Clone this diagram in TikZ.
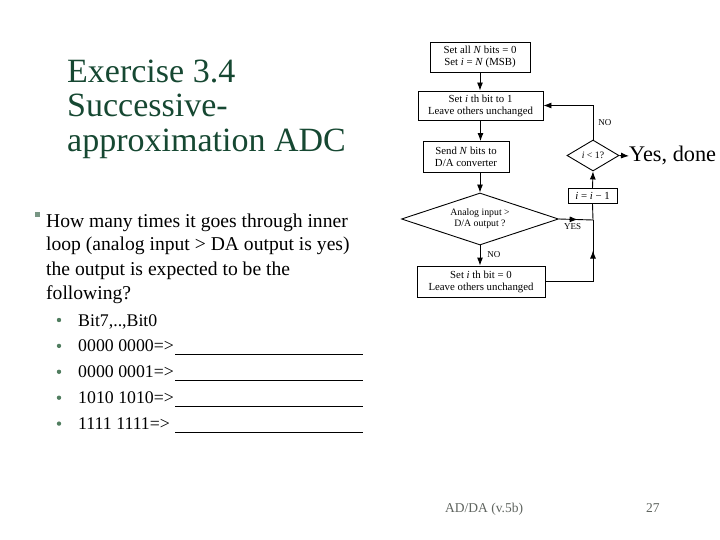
\documentclass[tikz,border=0pt]{standalone}
\usepackage{fontspec}
\setmainfont{Liberation Serif}
\usetikzlibrary{arrows.meta, shapes.geometric, positioning, decorations.markings}

\definecolor{titlegreen}{RGB}{22,72,50}
\definecolor{bulletgray}{RGB}{120,150,132}
\definecolor{dotgreen}{RGB}{80,125,95}
\definecolor{footgray}{RGB}{95,100,95}

\tikzset{
    flowbox/.style={draw, rectangle, line width=0.9pt, inner sep=0pt, align=center,
        font=\fontsize{10.8}{12}\selectfont},
    flowdia/.style={draw, diamond, line width=0.9pt, inner sep=0pt, align=center,
        font=\fontsize{9.8}{11}\selectfont},
    flowlbl/.style={font=\fontsize{9}{10}\selectfont, inner sep=1pt},
    flowline/.style={line width=0.9pt},
    midarrow/.style={postaction={decorate}, decoration={markings,
        mark=at position #1 with {\arrow{Latex[length=8pt,width=6pt]}}}},
    slidetext/.style={anchor=base west, inner sep=0pt},
}

\begin{document}
\begin{tikzpicture}[x=1pt, y=-1pt, >={Latex[length=8pt,width=6pt]}]
    \useasboundingbox (0,0) rectangle (720,540);

    % Title
    \node[slidetext, font=\fontsize{34}{35}\selectfont, text=titlegreen] (title1) at (67,83) {Exercise 3.4};
    \node[slidetext, font=\fontsize{34}{35}\selectfont, text=titlegreen] (title2) at (67,117) {Successive-};
    \node[slidetext, font=\fontsize{34}{35}\selectfont, text=titlegreen] (title3) at (67,151.5) {approximation ADC};

    % Question
    \fill[bulletgray] (34.5,212.5) rectangle (39.5,217.5);
    \node[slidetext, font=\fontsize{19.6}{24}\selectfont] (q1) at (46,227) {How many times it goes through inner};
    \node[slidetext, font=\fontsize{19.6}{24}\selectfont] (q2) at (46,251) {loop (analog input > DA output is yes)};
    \node[slidetext, font=\fontsize{19.6}{24}\selectfont] (q3) at (46,275) {the output is expected to be the};
    \node[slidetext, font=\fontsize{19.6}{24}\selectfont] (q4) at (46,299) {following?};

    % Sub items
    \foreach \t [count=\k] in {{Bit7,..,Bit0}, {0000 0000=>}, {0000 0001=>}, {1010 1010=>}, {1111 1111=>}} {
        \fill[dotgreen] (59,{326+25.9*(\k-1)-6}) circle (2.2);
        \node[slidetext, font=\fontsize{17.8}{20}\selectfont] (item\k) at (78,{326+25.9*(\k-1)}) {\t};
    }
    \foreach \k in {2,...,5} {
        \draw[line width=0.9pt] (175,{326+25.9*(\k-1)+2.5}) -- (362.5,{326+25.9*(\k-1)+2.5});
    }

    % Footer
    \node[slidetext, font=\fontsize{13.5}{15}\selectfont, text=footgray] (foot) at (445,512) {AD/DA (v.5b)};
    \node[slidetext, font=\fontsize{13.5}{15}\selectfont, text=footgray] (page) at (646,512) {27};

    % Flowchart
    \node[flowbox, minimum width=100pt, minimum height=30pt] (init) at (480,57)
        {Set all \textit{N} bits = 0\\Set \textit{i} = \textit{N} (MSB)};
    \node[flowbox, minimum width=125pt, minimum height=29pt] (setbit) at (480.5,105.5)
        {Set \textit{i} th bit to 1\\Leave others unchanged};
    \node[flowbox, minimum width=86pt, minimum height=31pt] (send) at (466,157)
        {Send \textit{N} bits to\\D/A converter};
    \node[flowdia, minimum width=157pt, minimum height=52pt, aspect=3] (cmp) at (480,219)
        {Analog input >\\D/A output ?};
    \node[flowbox, minimum width=128pt, minimum height=31pt] (clrbit) at (481,281.5)
        {Set \textit{i} th bit = 0\\Leave others unchanged};
    \node[flowdia, minimum width=52pt, minimum height=31pt] (test) at (593,155.5) {\textit{i} < 1?};
    \node[flowbox, minimum width=49pt, minimum height=15pt] (dec) at (592.5,196) {\textit{i} = \textit{i} − 1};
    \node[slidetext, font=\fontsize{22.3}{24}\selectfont] (done) at (629,162) {Yes, done};
    \coordinate (join) at (593,220);

    \draw[flowline, ->] (init.south) -- (init.south |- setbit.north);
    \draw[flowline, ->] (setbit.south) -- (setbit.south |- send.north);
    \draw[flowline, ->] (cmp.north |- send.south) -- (cmp.north);
    \draw[flowline, ->] (cmp.south) -- (cmp.south |- clrbit.north)
        node[flowlbl, pos=0.45, right=6pt] {NO};
    \draw[flowline, midarrow=0.55] (cmp.east) -- (join)
        node[flowlbl, pos=0.4, below=3pt] {YES};
    \draw[flowline, midarrow=0.72] (clrbit.east) -| (join);
    \draw[flowline] (join) -- (dec.south);
    \draw[flowline, ->] (dec.north) -- (test.south);
    \draw[flowline, ->] (test.east) -- (done.west);
    \draw[flowline, ->] (test.north) |- (setbit.east)
        node[flowlbl, pos=0.25, right=4pt] {NO};
\end{tikzpicture}
\end{document}
